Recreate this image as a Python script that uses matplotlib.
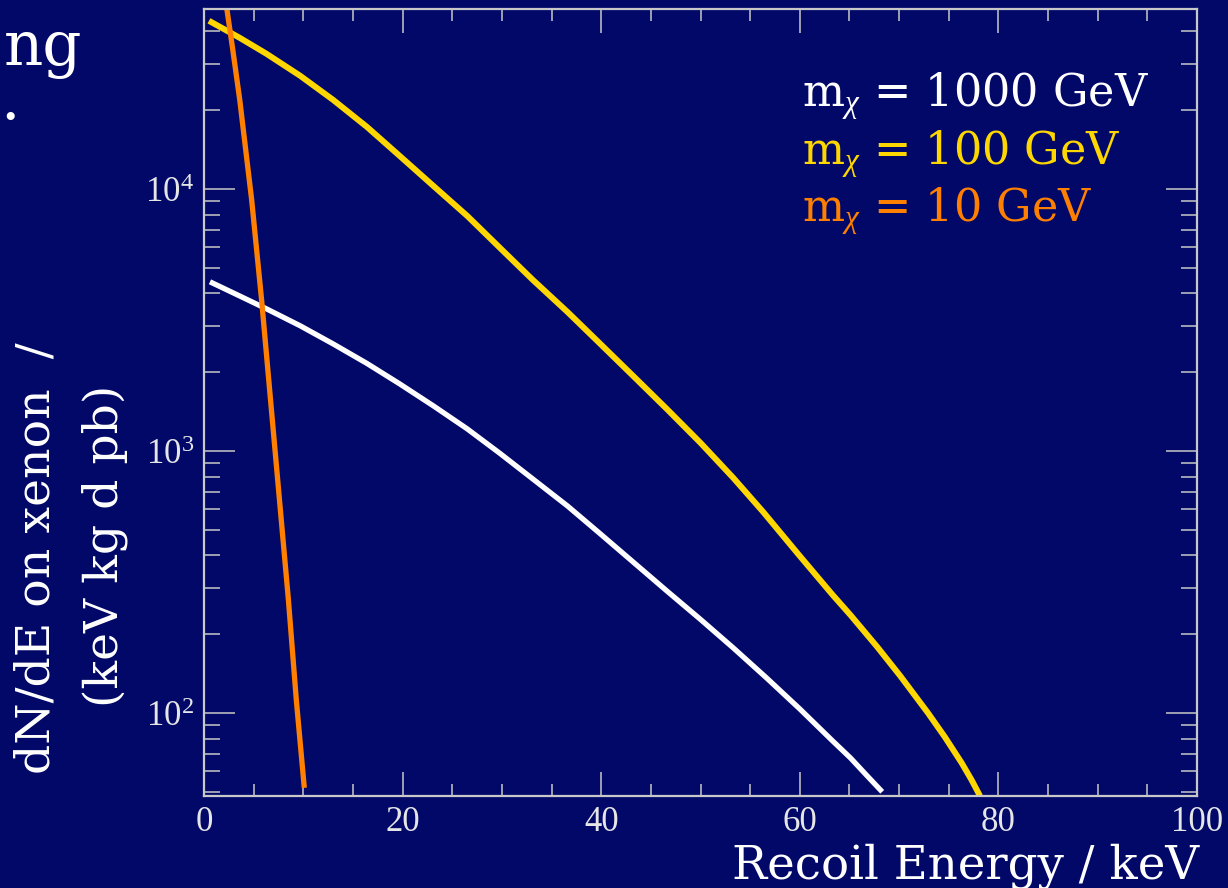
import matplotlib
matplotlib.use("Agg")
import matplotlib.pyplot as plt
from matplotlib.ticker import MultipleLocator, LogLocator, FuncFormatter, NullFormatter
import numpy as np

plt.rcParams["mathtext.fontset"] = "custom"
plt.rcParams["mathtext.rm"] = "Liberation Serif"
plt.rcParams["mathtext.it"] = "Liberation Serif:italic"

# Recoil energy (keV) and rate readings for each WIMP mass
e_1000 = [0.6, 3.6, 6.3, 9.7, 13.0, 16.4, 19.7, 23.1, 26.5, 29.8, 33.1, 36.6, 39.9,
          43.2, 46.6, 50.0, 53.3, 56.7, 60.0, 63.3, 65.1, 66.7, 68.3]
r_1000 = [4430, 3910, 3492, 3008, 2567, 2163, 1807, 1489, 1217, 981, 784, 618, 484,
          378, 293, 228, 177.5, 135.8, 103.8, 78.4, 67.5, 58.1, 50.1]

e_100 = [0.5, 3.6, 6.3, 9.7, 13.0, 16.4, 19.7, 23.1, 26.5, 29.8, 33.1, 36.6, 39.9,
         43.2, 46.6, 50.0, 53.3, 56.3, 60.0, 63.3, 65.1, 67.8, 70.1, 72.9, 74.6,
         76.3, 77.3, 78.15]
r_100 = [43900, 37800, 32840, 27060, 21920, 17290, 13400, 10290, 7910, 5970, 4510,
         3400, 2570, 1940, 1450, 1076, 791, 587, 398, 283, 237, 179, 139, 100.3,
         81.2, 64.6, 55.6, 48.3]

e_10 = [2.0, 2.3, 2.9, 3.6, 4.2, 4.8, 5.3, 5.8, 6.7, 7.6, 8.5, 9.3, 10.1]
r_10 = [57650, 48770, 34020, 21920, 14125, 9104, 5866, 3780, 1570, 652, 271, 112, 51.9]

labels = ["1000 GeV", "100 GeV", "10 GeV"]
colors = ["white", "#ffd700", "#ff8000"]

bg = "#020868"
axis_col = "#c8c8c8"
W, H = 1228, 888

fig = plt.figure(figsize=(W / 100, H / 100), dpi=100, facecolor=bg)
ax = fig.add_axes([204 / W, 1 - 796 / H, (1197 - 204) / W, (796 - 9) / H])
ax.set_facecolor(bg)

ax.plot(e_1000, r_1000, color=colors[0], lw=3.8, solid_capstyle="butt", solid_joinstyle="round")
ax.plot(e_100, r_100, color=colors[1], lw=4.3, solid_capstyle="butt", solid_joinstyle="round")
ax.plot(e_10, r_10, color=colors[2], lw=3.8, solid_capstyle="butt", solid_joinstyle="round")

ax.set_yscale("log")
ax.set_xlim(0, 100)
ax.set_ylim(48.3, 48700)

ax.xaxis.set_major_locator(MultipleLocator(20))
ax.xaxis.set_minor_locator(MultipleLocator(5))
ax.yaxis.set_major_locator(LogLocator(base=10, numticks=10))
ax.yaxis.set_minor_locator(LogLocator(base=10, subs=np.arange(2, 10), numticks=20))
ax.yaxis.set_minor_formatter(NullFormatter())
ax.yaxis.set_major_formatter(FuncFormatter(lambda v, p: r"$10^{%d}$" % round(np.log10(v))))

for s in ax.spines.values():
    s.set_color(axis_col)
    s.set_linewidth(1.6)

ax.tick_params(which="both", direction="in", top=True, right=True, color=axis_col,
               width=1.1, labelcolor="#e6e6e6", labelsize=25)
ax.tick_params(axis="x", which="major", length=17, pad=7)
ax.tick_params(axis="x", which="minor", length=8.6)
ax.tick_params(axis="y", which="major", length=22, pad=7)
ax.tick_params(axis="y", which="minor", length=11.5)
for lab in ax.get_xticklabels() + ax.get_yticklabels():
    lab.set_fontfamily("Liberation Serif")

serif = "DejaVu Serif"

# legend text
for i, (lab, c) in enumerate(zip(labels, colors)):
    yb = [107, 165, 222][i]
    fig.text(802 / W, 1 - yb / H, r"m$_{\chi}$ = " + lab, color=c, fontsize=32,
             family=serif, ha="left", va="baseline")

# axis titles
fig.text(1199 / W, 1 - 878 / H, "Recoil Energy / keV", color="white", fontsize=33.6,
         family=serif, ha="right", va="baseline")
fig.text(50 / W, 1 - 558 / H, "dN/dE on xenon  /", color="white", fontsize=34,
         family=serif, rotation=90, rotation_mode="anchor", ha="center", va="baseline")
fig.text(118 / W, 1 - 546 / H, "(keV kg d pb)", color="white", fontsize=34,
         family=serif, rotation=90, rotation_mode="anchor", ha="center", va="baseline")

# slide title fragments at the left edge
fig.text(82 / W, 1 - 65 / H, "ng", color="white", fontsize=44, family=serif,
         ha="right", va="baseline")
fig.text(0, 1 - 119 / H, ".", color="white", fontsize=44, family=serif,
         ha="left", va="baseline")

fig.savefig("out.png", dpi=100, facecolor=bg)
